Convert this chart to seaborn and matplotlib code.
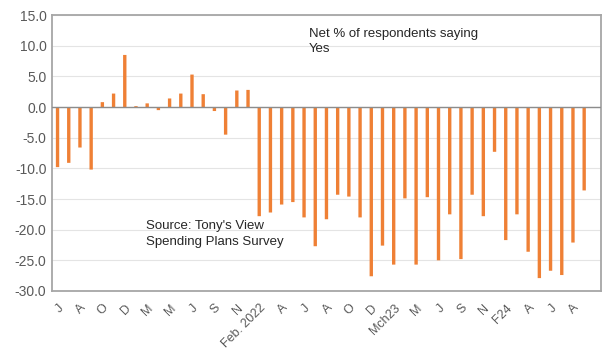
import numpy as np
import pandas as pd
import matplotlib
matplotlib.use("Agg")
import matplotlib.pyplot as plt
import seaborn as sns

# Net % of respondents saying "Yes" to spending plans, one value per survey
net_yes = [
    -9.8, -9.1, -6.6, -10.2, 0.8, 2.2, 8.5, 0.15, 0.6, -0.5,
    1.4, 2.2, 5.3, 2.1, -0.65, -4.5, 2.7, 2.8, -17.8, -17.2,
    -15.9, -15.5, -18.0, -22.7, -18.3, -14.3, -14.6, -18.0, -27.6, -22.6,
    -25.7, -14.9, -25.7, -14.7, -25.0, -17.5, -24.8, -14.3, -17.8, -7.3,
    -21.7, -17.5, -23.6, -27.9, -26.7, -27.4, -22.1, -13.6,
]

# Labels shown under every second survey
tick_labels = [
    "J", "A", "O", "D", "M", "M", "J", "S", "N", "Feb. 2022",
    "A", "J", "A", "O", "D", "Mch23", "M", "J", "S", "N",
    "F24", "A", "J", "A",
]

y_ticks = [15, 10, 5, 0, -5, -10, -15, -20, -25, -30]

sns.set_theme(style="white")
plt.rcParams["font.family"] = ["Liberation Sans", "DejaVu Sans"]

df = pd.DataFrame({"survey": np.arange(len(net_yes)), "net": net_yes})

fig = plt.figure(figsize=(6.04, 3.51), dpi=100)
ax = fig.add_axes([0.086, 0.171, 0.909, 0.786])

sns.barplot(data=df, x="survey", y="net", color="#EF8035", saturation=1,
            width=0.3, linewidth=0, ax=ax, zorder=3)
for bar in ax.patches:
    bar.set_snap(False)

ax.set_xlim(-0.5, len(net_yes) + 0.5)
ax.set_ylim(-30, 15)
ax.set_yticks(y_ticks)
ax.set_yticklabels([f"{v:.1f}" for v in y_ticks])
ax.set_xticks(np.arange(0, 2 * len(tick_labels), 2))
ax.set_xticklabels(tick_labels, rotation=45, ha="right", rotation_mode="anchor")
ax.set_xlabel("")
ax.set_ylabel("")

ax.tick_params(axis="y", length=0, labelsize=10, colors="#595959", pad=4)
ax.tick_params(axis="x", length=0, labelsize=9, colors="#595959", pad=8)

ax.grid(axis="y", color="#E4E4E4", linewidth=0.8, zorder=0)
ax.axhline(0, color="#8C8C8C", linewidth=1.0, zorder=4)
for side in ax.spines.values():
    side.set_visible(True)
    side.set_color("#A6A6A6")
    side.set_linewidth(1.3)

ax.text(0.468, 0.955, "Net % of respondents saying\nYes", transform=ax.transAxes,
        ha="left", va="top", fontsize=9.5, color="#262626", linespacing=1.4)
ax.text(0.171, 0.256, "Source: Tony's View\nSpending Plans Survey", transform=ax.transAxes,
        ha="left", va="top", fontsize=9.5, color="#262626", linespacing=1.4)

fig.savefig("out.png", dpi=100)
